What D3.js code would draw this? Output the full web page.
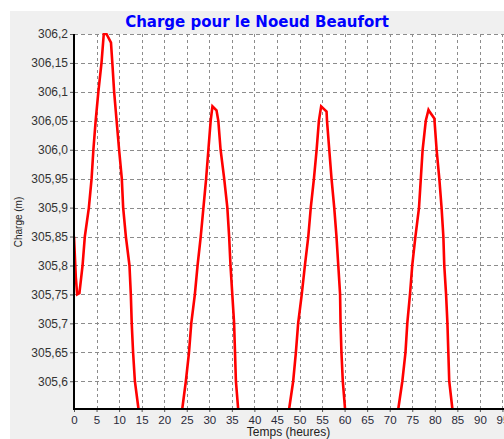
<!DOCTYPE html>
<html><head><meta charset="utf-8">
<script src="https://cdn.jsdelivr.net/npm/d3@7/dist/d3.min.js"></script>
<style>
html,body{margin:0;padding:0;background:#fff;overflow:hidden;}
svg{display:block;font-family:"Liberation Sans",Arial,sans-serif;}
</style></head>
<body>
<svg id="chart" width="504" height="439"></svg>
<script>
const title = "Charge pour le Noeud Beaufort";
const xLabel = "Temps (heures)";
const yLabel = "Charge (m)";
const xTicks = [0,5,10,15,20,25,30,35,40,45,50,55,60,65,70,75,80,85,90,95];
const yTicks = [305.6,305.65,305.7,305.75,305.8,305.85,305.9,305.95,306.0,306.05,306.1,306.15,306.2];
const yTickLabels = ["305,6","305,65","305,7","305,75","305,8","305,85","305,9","305,95","306,0","306,05","306,1","306,15","306,2"];
const xDomain = [0,100];
const yDomain = [305.552,306.2];

const times = [
 0,0.4,0.7,1.2,1.9,2.4,3.3,3.9,4.3,4.8,5.4,6.1,6.6,7.2,8.2,8.5,8.9,9.45,10.0,10.6,10.9,11.5,12.3,12.6,12.8,13.1,13.5,14.3,15,19,
 24.0,24.8,25.5,26.0,26.8,27.4,28.1,28.7,29.3,29.8,30.3,30.7,31.6,32.0,32.5,33.3,34.0,34.4,34.7,35.1,35.5,35.7,35.9,36.4,37,42,
 47.7,48.6,49.2,49.7,50.5,51.2,51.95,52.5,53.2,53.8,54.3,54.8,56.0,56.1,56.6,57.1,57.7,58.2,58.6,59.0,59.1,59.3,59.6,60.1,60.7,66,
 71.9,72.8,73.5,73.9,74.5,75.0,75.7,76.5,76.9,77.3,78.0,78.6,78.9,79.9,80.4,81.0,81.5,81.9,82.1,82.5,82.8,83.0,83.2,83.9,84.5,90,95
];
const heads = [
 305.85,305.78,305.75,305.752,305.80,305.85,305.90,305.95,306.00,306.05,306.10,306.15,306.20,306.20,306.185,306.15,306.10,306.05,306.00,305.95,305.90,305.85,305.80,305.75,305.70,305.65,305.60,305.552,305.50,305.40,
 305.552,305.60,305.65,305.70,305.75,305.80,305.85,305.90,305.95,306.00,306.05,306.075,306.068,306.05,306.00,305.95,305.90,305.85,305.80,305.75,305.70,305.65,305.60,305.552,305.50,305.40,
 305.552,305.60,305.65,305.70,305.75,305.80,305.85,305.90,305.95,306.00,306.05,306.075,306.066,306.05,306.00,305.95,305.90,305.85,305.80,305.75,305.70,305.65,305.60,305.552,305.50,305.40,
 305.552,305.60,305.65,305.70,305.75,305.80,305.85,305.90,305.95,306.00,306.05,306.069,306.065,306.054,306.00,305.95,305.90,305.85,305.80,305.75,305.70,305.65,305.60,305.552,305.50,305.40,305.50
];

const svg = d3.select("#chart");
const W = 504, H = 439;
const pL = 74, pT = 34, pB = 409, pR = 525;

svg.append("rect").attr("x",10).attr("y",11).attr("width",W-10).attr("height",H-11).attr("fill","#f0f0f0");
svg.append("rect").attr("x",pL).attr("y",pT).attr("width",pR-pL).attr("height",pB-pT).attr("fill","#ffffff");

const x = d3.scaleLinear().domain(xDomain).range([pL,pR]);
const y = d3.scaleLinear().domain(yDomain).range([pB,pT]);

// grid
const g = svg.append("g");
g.selectAll("line.h").data(yTicks).join("line")
  .attr("x1",pL).attr("x2",W).attr("y1",d=>Math.round(y(d))+0.5).attr("y2",d=>Math.round(y(d))+0.5)
  .attr("stroke","#8c8c8c").attr("stroke-width",1).attr("stroke-dasharray","4,3");
g.selectAll("line.v").data(xTicks.filter(d=>d>0)).join("line")
  .attr("y1",pT).attr("y2",pB).attr("x1",d=>Math.round(x(d))+0.5).attr("x2",d=>Math.round(x(d))+0.5)
  .attr("stroke","#8c8c8c").attr("stroke-width",1).attr("stroke-dasharray","3,3");

// clip + line
svg.append("clipPath").attr("id","clip").append("rect")
  .attr("x",pL).attr("y",pT-1).attr("width",pR-pL).attr("height",pB-pT+1);
const data = times.map((t,i)=>[t,heads[i]]);
svg.append("path").datum(data).attr("clip-path","url(#clip)")
  .attr("fill","none").attr("stroke","#ff0000").attr("stroke-width",2.6).attr("stroke-linejoin","miter")
  .attr("d", d3.line().x(d=>x(d[0])).y(d=>y(d[1])));

// axes
const yAxis = d3.axisLeft(y).tickValues(yTicks).tickFormat((d,i)=>yTickLabels[i]).tickSize(4).tickPadding(2);
const ya = svg.append("g").attr("transform",`translate(${pL},0)`).call(yAxis);
ya.select(".domain").remove();
ya.selectAll("line").attr("stroke","#555");
ya.selectAll("text").attr("font-size","12px").attr("fill","#333").attr("font-family","Liberation Sans, Arial, sans-serif");

const xAxis = d3.axisBottom(x).tickValues(xTicks).tickFormat(d3.format("d")).tickSize(3).tickPadding(4);
const xa = svg.append("g").attr("transform",`translate(0,${pB})`).call(xAxis);
xa.select(".domain").remove();
xa.selectAll("line").attr("stroke","#555");
xa.selectAll("text").attr("font-size","11.5px").attr("fill","#2a2a3a").attr("font-family","Liberation Sans, Arial, sans-serif");

svg.append("line").attr("x1",pL).attr("x2",pL).attr("y1",pT).attr("y2",pB+1).attr("stroke","#000").attr("stroke-width",2);
svg.append("line").attr("x1",pL-1).attr("x2",W).attr("y1",pB).attr("y2",pB).attr("stroke","#000").attr("stroke-width",2);

// titles
svg.append("text").attr("x",257).attr("y",26.5).attr("text-anchor","middle")
  .attr("font-family","DejaVu Sans, sans-serif")
  .attr("font-size","15px").attr("font-weight","bold").attr("fill","#0000ff").text(title);
svg.append("text").attr("x",288.5).attr("y",436).attr("text-anchor","middle")
  .attr("font-size","12px").attr("fill","#222").text(xLabel);
svg.append("text").attr("transform","translate(21.5,222) rotate(-90)").attr("text-anchor","middle")
  .attr("font-size","10px").attr("fill","#222").text(yLabel);
</script>
</body></html>
